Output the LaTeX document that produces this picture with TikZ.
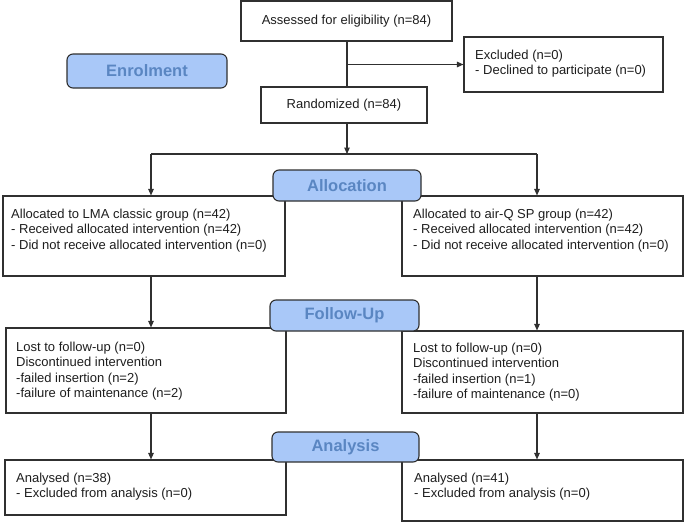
\documentclass[tikz,border=0pt]{standalone}
\usepackage{fontspec}
\setmainfont{Liberation Sans}
\usetikzlibrary{arrows.meta,fit}
\definecolor{lblfill}{HTML}{A9C8F8}
\definecolor{lbltxt}{HTML}{5A86C2}
\definecolor{ln}{HTML}{303030}
\definecolor{tx}{HTML}{1E1E1E}
\tikzset{
  box/.style={draw=ln, line width=1.1pt, fill=white, rectangle, inner sep=0pt},
  phase/.style={draw=ln, line width=1.1pt, fill=lblfill, rectangle, rounded corners=6pt, inner sep=0pt},
  phasetxt/.style={inner sep=0pt, text=lbltxt, font=\fontsize{16.5}{19}\selectfont\bfseries},
  txt/.style={anchor=north west, align=left, inner sep=0pt, text=tx, font=\fontsize{13}{15.3}\selectfont},
  ctxt/.style={inner sep=0pt, text=tx, font=\fontsize{13}{15.3}\selectfont},
  conn/.style={draw=ln, line width=1.1pt},
  arr/.style={conn, -{Triangle[length=6.5pt,width=5.5pt]}}
}
\begin{document}
\begin{tikzpicture}[x=1pt,y=-1pt]
\useasboundingbox (0,0) rectangle (685,522);
% boxes
\node[box, fit={(241,1) (452,41)}] (assess) {};
\node[ctxt] (assessT) at (assess.center) {Assessed for eligibility (n=84)};
\node[box, fit={(464,37) (663,92)}] (excl) {};
\node[txt] (exclT) at (475,50) {Excluded (n=0)\\- Declined to participate (n=0)};
\node[box, fit={(261,87) (427,123)}] (rand) {};
\node[ctxt] (randT) at (rand.center) {Randomized (n=84)};

\node[box, fit={(3,196) (285,276)}] (allocL) {};
\node[txt] (allocLT) at (11,209) {Allocated to LMA classic group (n=42)\\- Received allocated intervention (n=42)\\- Did not receive allocated intervention (n=0)};
\node[box, fit={(402,196) (683,276)}] (allocR) {};
\node[txt] (allocRT) at (413,209) {Allocated to air-Q SP group (n=42)\\- Received allocated intervention (n=42)\\- Did not receive allocated intervention (n=0)};

\node[box, fit={(6,328) (286,413)}] (folL) {};
\node[txt] (folLT) at (16,342) {Lost to follow-up (n=0)\\Discontinued intervention\\-failed insertion (n=2)\\-failure of maintenance (n=2)};
\node[box, fit={(402,331) (683,413)}] (folR) {};
\node[txt] (folRT) at (413,343) {Lost to follow-up (n=0)\\Discontinued intervention\\-failed insertion (n=1)\\-failure of maintenance (n=0)};

\node[box, fit={(5,460) (286,515)}] (anaL) {};
\node[txt] (anaLT) at (16,473) {Analysed (n=38)\\- Excluded from analysis (n=0)};
\node[box, fit={(402,460) (683,521)}] (anaR) {};
\node[txt] (anaRT) at (414,473) {Analysed (n=41)\\- Excluded from analysis (n=0)};

% connectors
\coordinate (j) at (347,154);
\coordinate (jl) at (151,154);
\coordinate (jr) at (537,154);
\draw[conn] (j |- assess.south) -- (j |- rand.north);
\draw[arr] (j |- excl.west) -- (excl.west);
\draw[arr] (j |- rand.south) -- (j);
\draw[conn] (jl) -- (jr);
\draw[arr] (jl) -- (jl |- allocL.north);
\draw[arr] (jr) -- (jr |- allocR.north);
\draw[arr] (jl |- allocL.south) -- (jl |- folL.north);
\draw[arr] (jr |- allocR.south) -- (jr |- folR.north);
\draw[arr] (jl |- folL.south) -- (jl |- anaL.north);
\draw[arr] (jr |- folR.south) -- (jr |- anaR.north);

% phase labels
\node[phase, fit={(67,54) (227,88)}] (enrol) {};
\node[phasetxt] (enrolT) at (enrol.center) {Enrolment};
\node[phase, fit={(273,170) (421,201)}] (alloc) {};
\node[phasetxt] (allocT) at (alloc.center) {Allocation};
\node[phase, fit={(270,300) (419,331)}] (follow) {};
\node[phasetxt] (followT) at (follow.center) {Follow-Up};
\node[phase, fit={(272,432) (419,462)}] (analysis) {};
\node[phasetxt] (analysisT) at (analysis.center) {Analysis};
\end{tikzpicture}
\end{document}
